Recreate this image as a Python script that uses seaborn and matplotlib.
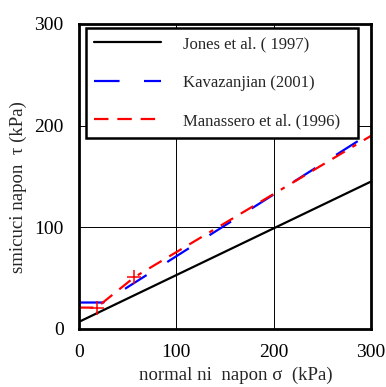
import matplotlib

matplotlib.use("Agg")

import matplotlib.pyplot as plt
import pandas as pd
import seaborn as sns

# shear strength envelopes
jones_x = [0, 300]
jones_y = [7, 145]
kav_x = [0, 25, 300]
kav_y = [26, 26, 193]
man_x = [0, 18, 57, 300]
man_y = [21, 21, 51, 190]
man_mark_x = [18, 57]
man_mark_y = [21, 51]

labels = ["Jones et al. ( 1997)", "Kavazanjian (2001)", "Manassero et al. (1996)"]
ticks = [0, 100, 200, 300]

sns.set_theme(style="white")
plt.rcParams["font.family"] = ["Liberation Serif", "DejaVu Serif"]

fig = plt.figure(figsize=(3.86, 3.87), dpi=100)
ax = fig.add_axes([0.2047, 0.150, 0.7565, 0.788])

jones = pd.DataFrame({"x": jones_x, "y": jones_y})
kav = pd.DataFrame({"x": kav_x, "y": kav_y})
man = pd.DataFrame({"x": man_x, "y": man_y})

sns.lineplot(data=jones, x="x", y="y", color="black", lw=1.6, sort=False,
             estimator=None, label=labels[0], ax=ax)
sns.lineplot(data=kav, x="x", y="y", color="blue", lw=1.6, sort=False,
             estimator=None, label=labels[1], linestyle=(0, (11.5, 11)), ax=ax)
sns.lineplot(data=man, x="x", y="y", color="red", lw=1.6, sort=False,
             estimator=None, label=labels[2],
             linestyle=(0, (6.5, 4, 6.5, 4, 6.5, 4, 2, 4)), ax=ax)
sns.scatterplot(x=man_mark_x, y=man_mark_y, marker="+", color="red", s=90,
                linewidth=1.1, legend=False, ax=ax, zorder=4)

ax.set_xlim(0, 300)
ax.set_ylim(0, 300)
ax.set_xticks(ticks)
ax.set_yticks(ticks)
ax.grid(True, color="black", lw=0.7)
ax.tick_params(length=0, labelsize=14, colors="black")
ax.tick_params(axis="y", pad=11)
ax.tick_params(axis="x", pad=11)
for s in ax.spines.values():
    s.set_color("black")
    s.set_linewidth(2.0)

ax.set_xlabel("")
ax.set_ylabel("")
ax.text(0.538, -0.125, "normal ni  napon σ  (kPa)", transform=ax.transAxes,
        ha="center", va="top", fontsize=13.5)
ax.text(-0.209, 0.464, "smicuci napon  τ (kPa)", transform=ax.transAxes,
        ha="center", va="center", rotation=90, fontsize=13.5)

leg = ax.legend(loc="upper left", bbox_to_anchor=(0.024, 0.633, 0.931, 0.354),
                mode="expand", fontsize=12, handlelength=4.0, handletextpad=1.3,
                labelspacing=1.35, borderpad=0.5, borderaxespad=0,
                fancybox=False, framealpha=1, edgecolor="black")
leg.get_frame().set_linewidth(1.8)

fig.savefig("out.png", dpi=100)
